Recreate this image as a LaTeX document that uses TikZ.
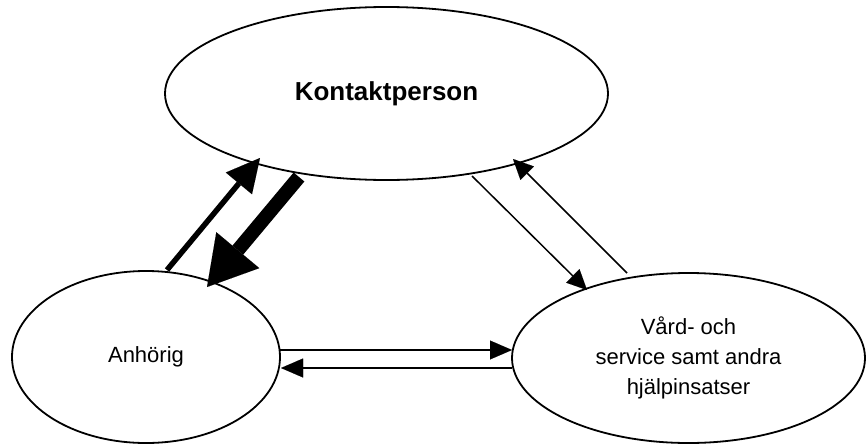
\documentclass[tikz,border=0pt]{standalone}
\usepackage{fontspec}
\setmainfont{Liberation Sans}
\usetikzlibrary{arrows.meta,calc,shapes.geometric}
\begin{document}
\begin{tikzpicture}[x=1pt,y=-1pt,
  bubble/.style={draw,ellipse,line width=1.8pt,inner sep=0pt,outer sep=0pt},
  boldlabel/.style={font=\fontsize{26}{30}\selectfont\bfseries},
  plainlabel/.style={font=\fontsize{22}{30}\selectfont,align=center},
  heavyarrow/.style={line width=14pt,-{Triangle[length=48pt,width=56pt,line width=0.01pt]}},
  mediumarrow/.style={line width=5.5pt,-{Triangle[length=33pt,width=34pt,line width=0.01pt]}},
  slimarrow/.style={line width=1.5pt,-{Triangle[length=20pt,width=19pt,line width=0.01pt]}},
  flatarrow/.style={line width=1.8pt,-{Triangle[length=22pt,width=19pt,line width=0.01pt]}}]
\useasboundingbox (0,0) rectangle (866,444);
\node[bubble,boldlabel,minimum width=443pt,minimum height=173pt] (K) at (386.5,93.5) {Kontaktperson};
\node[bubble,plainlabel,minimum width=268pt,minimum height=172pt] (A) at (146,357) {Anhörig};
\node[bubble,plainlabel,minimum width=353pt,minimum height=170pt] (V) at (688.5,358) {Vård- och\\service samt andra\\hjälpinsatser};
% Anhörig <-> Kontaktperson
\draw[mediumarrow] ($(A)+(21,-87)$) -- ($(K)+(-126.5,64.5)$);
\draw[heavyarrow] ($(K)+(-87.5,83.5)$) -- ($(A)+(61,-70)$);
% Kontaktperson <-> Vård
\draw[slimarrow] ($(K)+(85.5,82.5)$) -- ($(V)+(-101.5,-68)$);
\draw[slimarrow] ($(V)+(-61.5,-85)$) -- ($(K)+(126.5,65.5)$);
% Anhörig <-> Vård
\draw[flatarrow] ($(A)+(134,-7)$) -- ($(V)+(-176.5,-8)$);
\draw[flatarrow] ($(V)+(-176.5,10)$) -- ($(A)+(135,11)$);
\end{tikzpicture}
\end{document}
